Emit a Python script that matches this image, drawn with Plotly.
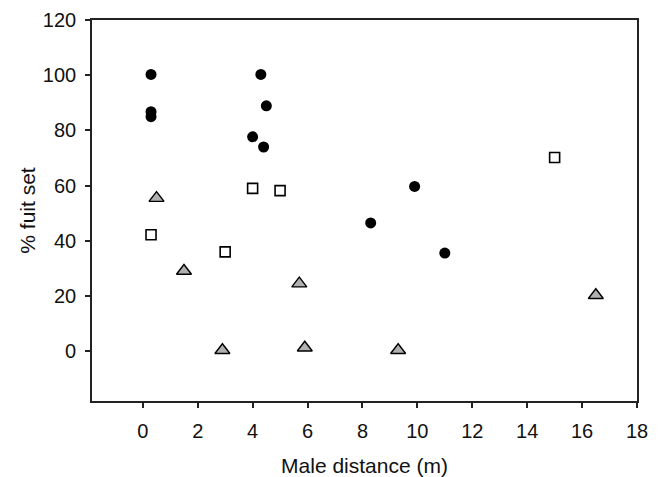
import plotly.graph_objects as go

# Data
circle_x = [0.3, 0.3, 0.3, 4.3, 4.5, 4.0, 4.4, 9.9, 8.3, 11.0]
circle_y = [100.3, 86.8, 85.0, 100.3, 88.9, 77.7, 74.0, 59.7, 46.5, 35.6]

square_x = [4.0, 5.0, 0.3, 3.0, 15.0]
square_y = [59.0, 58.2, 42.2, 36.0, 70.2]

triangle_x = [0.5, 1.5, 2.9, 5.7, 5.9, 9.3, 16.5]
triangle_y = [55.5, 29.1, 0.4, 24.5, 1.3, 0.4, 20.3]

x_ticks = [0, 2, 4, 6, 8, 10, 12, 14, 16, 18]
y_ticks = [0, 20, 40, 60, 80, 100, 120]

FONT = "Liberation Sans, Arial, sans-serif"
AXIS_COLOR = "#222222"

fig = go.Figure()
fig.add_trace(go.Scatter(
    x=circle_x, y=circle_y, mode="markers",
    marker=dict(symbol="circle", size=11, color="black", line=dict(width=0)),
    showlegend=False))
fig.add_trace(go.Scatter(
    x=square_x, y=square_y, mode="markers",
    marker=dict(symbol="square", size=10, color="white",
                line=dict(width=1.6, color="black")),
    showlegend=False))
fig.add_trace(go.Scatter(
    x=triangle_x, y=triangle_y, mode="markers",
    marker=dict(symbol="triangle-up", size=13, color="#b0b0b0",
                line=dict(width=1.4, color="black")),
    showlegend=False))

fig.update_layout(
    width=660, height=477,
    margin=dict(l=92, r=23, t=20, b=76),
    paper_bgcolor="white", plot_bgcolor="white",
    font=dict(family=FONT, size=20, color="#111111"),
    xaxis=dict(
        range=[-1.85, 18], tickvals=x_ticks, ticktext=[str(v) for v in x_ticks],
        ticks="outside", ticklen=5, tickwidth=1.5, tickcolor=AXIS_COLOR,
        ticklabelstandoff=6, automargin=False,
        showline=True, linewidth=1.7, linecolor=AXIS_COLOR, mirror=True,
        showgrid=False, zeroline=False,
        title=dict(text="Male distance (m)", font=dict(size=21), standoff=18),
    ),
    yaxis=dict(
        range=[-18, 120], tickvals=y_ticks, ticktext=[str(v) for v in y_ticks],
        ticks="outside", ticklen=5, tickwidth=1.5, tickcolor=AXIS_COLOR,
        ticklabelstandoff=5, automargin=False,
        showline=True, linewidth=1.7, linecolor=AXIS_COLOR, mirror=True,
        showgrid=False, zeroline=False,
        title=dict(text="% fuit set", font=dict(size=21), standoff=1),
    ),
)

fig.write_html("out.html")
